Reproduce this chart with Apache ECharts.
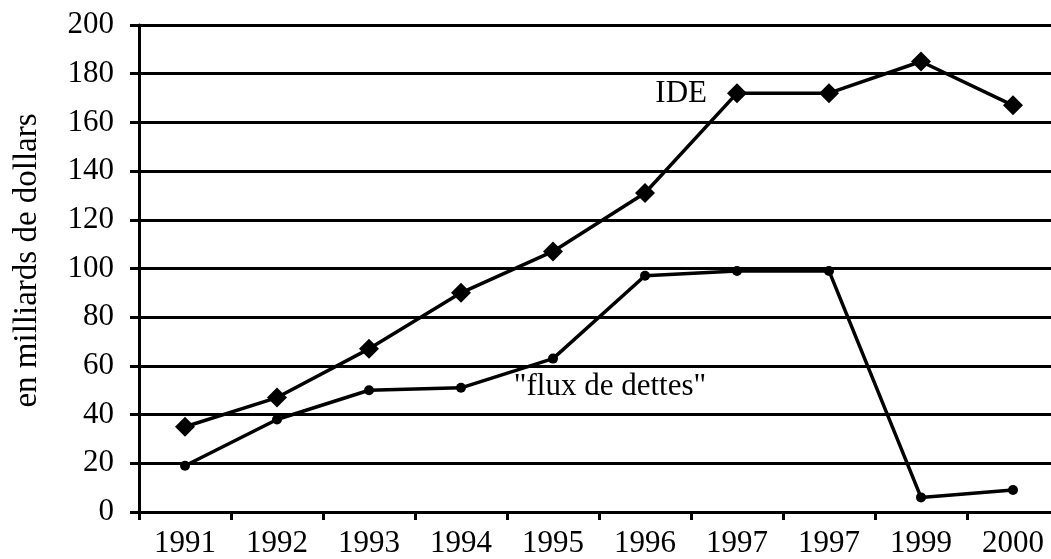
<!DOCTYPE html>
<html>
<head>
<meta charset="utf-8">
<script src="https://cdn.jsdelivr.net/npm/echarts@6/dist/echarts.min.js"></script>
<style>
  html, body { margin: 0; padding: 0; background: #fff; overflow: hidden; }
  #chart { width: 1059px; height: 559px; }
</style>
</head>
<body>
<div id="chart"></div>
<script>
var years = ['1991', '1992', '1993', '1994', '1995', '1996', '1997', '1997', '1999', '2000'];
var ide = [35, 47, 67, 90, 107, 131, 172, 172, 185, 167];
var flux = [19, 38, 50, 51, 63, 97, 99, 99, 6, 9];

var font = '"Liberation Serif", "DejaVu Serif", serif';

// labels sit on one point of each line
var ideData = ide.map(function (v, i) {
  if (i == 6) {
    return { value: v, label: { show: true, formatter: 'IDE', position: 'left', distance: 20, offset: [0, 1] } };
  }
  return v;
});
var fluxData = flux.map(function (v, i) {
  if (i == 4) {
    return { value: v, label: { show: true, formatter: '"flux de dettes"', position: 'bottom', offset: [57, 3] } };
  }
  return v;
});

var el = echarts.init(document.getElementById('chart'));
el.setOption({
  backgroundColor: '#fff',
  animation: false,
  grid: { left: 139, top: 25, right: 0, bottom: 47 },
  xAxis: {
    type: 'category',
    data: years,
    boundaryGap: true,
    axisLine: { lineStyle: { color: '#000', width: 3 } },
    axisTick: { show: true, length: 8, lineStyle: { color: '#000', width: 3 } },
    axisLabel: { color: '#000', fontFamily: font, fontSize: 31, margin: 16 }
  },
  yAxis: {
    type: 'value',
    min: 0,
    max: 200,
    interval: 20,
    name: 'en milliards de dollars',
    nameLocation: 'middle',
    nameGap: 95,
    nameTextStyle: { color: '#000', fontFamily: font, fontSize: 33, padding: [0, 0, 0, 16] },
    axisLine: { show: true, lineStyle: { color: '#000', width: 3 } },
    axisTick: { show: true, length: 9, lineStyle: { color: '#000', width: 3 } },
    axisLabel: { color: '#000', fontFamily: font, fontSize: 31, margin: 25 },
    splitLine: { lineStyle: { color: '#000', width: 3 } }
  },
  series: [
    {
      name: 'IDE',
      type: 'line',
      data: ideData,
      symbol: 'diamond',
      symbolSize: 20,
      itemStyle: { color: '#000' },
      lineStyle: { color: '#000', width: 3.5 },
      label: { color: '#000', fontFamily: font, fontSize: 31 }
    },
    {
      name: 'flux de dettes',
      type: 'line',
      data: fluxData,
      symbol: 'circle',
      symbolSize: 10,
      itemStyle: { color: '#000' },
      lineStyle: { color: '#000', width: 3.5 },
      label: { color: '#000', fontFamily: font, fontSize: 31 }
    }
  ]
});
</script>
</body>
</html>
